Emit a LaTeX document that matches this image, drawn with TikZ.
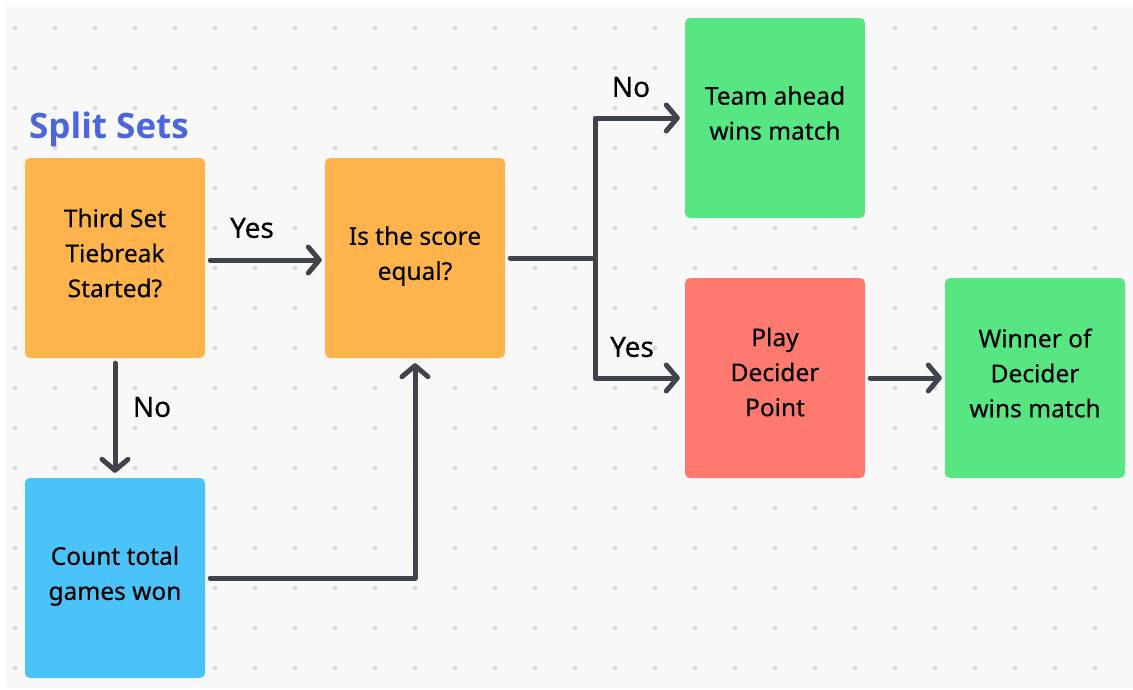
\documentclass[tikz,border=0pt]{standalone}
\usepackage{fontspec}
\setmainfont{Noto Sans}
\newfontfamily\titlefont{Open Sans}
\newfontfamily\boxfont[FakeBold=0.4]{Noto Sans}
\usetikzlibrary{arrows.meta}
\definecolor{bgray}{HTML}{F8F8F9}
\definecolor{dotc}{HTML}{DCDEE2}
\definecolor{orangec}{HTML}{FFB34C}
\definecolor{greenc}{HTML}{57E682}
\definecolor{redc}{HTML}{FF7A6E}
\definecolor{bluec}{HTML}{4BC2F8}
\definecolor{titlec}{HTML}{4B66DB}
\definecolor{linec}{HTML}{3F434B}
\newcommand{\boxtext}[2]{\parbox{175pt}{\centering #2\par\vspace{#1}}}
\tikzset{
  box/.style={rectangle, rounded corners=5pt, minimum width=180pt, minimum height=200pt, inner sep=0pt, align=center, font=\boxfont\fontsize{24.5}{35}\selectfont, text=black},
  conn/.style={draw=linec, line width=5pt, line cap=round, line join=round},
  arr/.style={conn, -{Straight Barb[length=11pt,width=26pt,line width=5pt,round]}},
  lbl/.style={font=\boxfont\fontsize{28}{32}\selectfont, text=black},
}
\begin{document}
\begin{tikzpicture}[x=1pt,y=-1pt]
\useasboundingbox (0,0) rectangle (1133,689);
\fill[white] (0,0) rectangle (1133,689);
\fill[bgray] (6,5) rectangle (1133,687);
\foreach \i in {0,...,27} {
  \foreach \j in {0,...,16} {
    \fill[dotc] (15+40*\i, 28+40*\j) circle (2.6pt);
  }
}
\node[font=\titlefont\bfseries\fontsize{35}{40}\selectfont, text=titlec, anchor=west, inner sep=0pt] (title) at (29,129) {Split Sets};
\node[box, fill=orangec] (third) at (115,258) {\boxtext{10pt}{Third Set\\Tiebreak\\Started?}};
\node[box, fill=orangec] (score) at (415,258) {\boxtext{4pt}{Is the score\\equal?}};
\node[box, fill=greenc] (team) at (775,118) {\boxtext{10pt}{Team ahead\\wins match}};
\node[box, fill=redc] (decider) at (775,378) {\boxtext{12pt}{Play\\Decider\\Point}};
\node[box, fill=greenc] (winner) at (1035,378) {\boxtext{10pt}{Winner of\\Decider\\wins match}};
\node[box, fill=bluec] (count) at (115,578) {\boxtext{4pt}{Count total\\games won}};
\coordinate (split) at (595,258);
\draw[arr] ([xshift=5pt,yshift=-2pt]third.east) -- ([xshift=-3pt,yshift=-2pt]score.west);
\draw[arr] ([yshift=-5pt]third.south) -- ([yshift=5pt]count.north);
\draw[arr] ([xshift=5pt]count.east) -| ([yshift=-5pt]score.south);
\draw[conn] ([xshift=5pt]score.east) -- (split);
\draw[arr] (split) |- ([xshift=-5pt]team.west);
\draw[arr] (split) |- ([xshift=-5pt]decider.west);
\draw[arr] ([xshift=5pt]decider.east) -- ([xshift=-3pt]winner.west);
\node[lbl] (yes1) at (252,228) {Yes};
\node[lbl] (no1) at (152,407) {No};
\node[lbl] (no2) at (631,87) {No};
\node[lbl] (yes2) at (632,347) {Yes};
\end{tikzpicture}
\end{document}
